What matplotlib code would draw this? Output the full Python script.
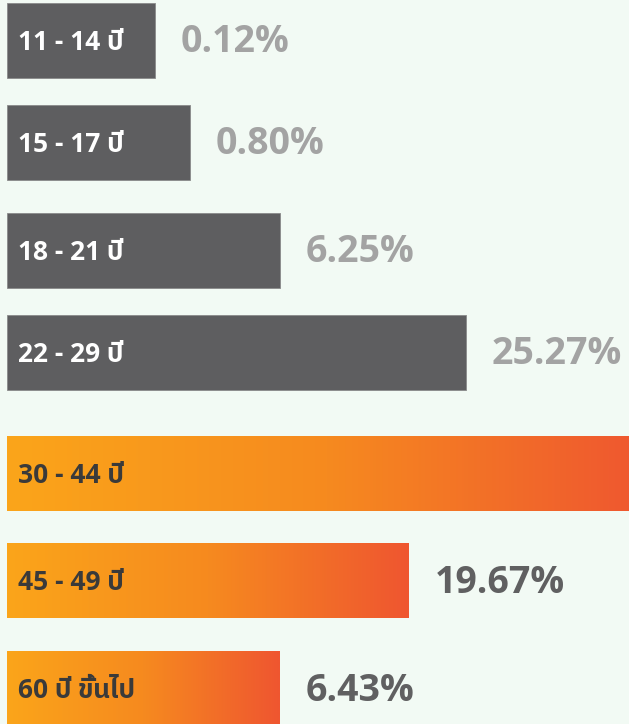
import matplotlib
matplotlib.use("Agg")
import matplotlib.pyplot as plt
import numpy as np
from matplotlib.colors import LinearSegmentedColormap

# ---- data ----
categories = ["11 - 14 ปี", "15 - 17 ปี", "18 - 21 ปี", "22 - 29 ปี",
              "30 - 44 ปี", "45 - 49 ปี", "60 ปี ขึ้นไป"]
value_labels = ["0.12%", "0.80%", "6.25%", "25.27%", "", "19.67%", "6.43%"]
# displayed bar length (chart units)
bar_len = [148, 183, 273, 459, 640, 402, 273]
group = ["gray", "gray", "gray", "gray", "orange", "orange", "orange"]

# ---- layout ----
W, H = 629, 724
centers = [40.5, 142.5, 250, 352.5, 473.5, 581, 689]
bar_h = 75
x0 = 7

bg = "#f2faf4"
gray_bar = "#5e5e60"
grad = LinearSegmentedColormap.from_list("og", ["#fba51a", "#f68a1f", "#ef5630"])

fams = ["Open Sans", "IBM Plex Sans Thai", "Noto Sans Thai", "DejaVu Sans"]
plt.rcParams["font.family"] = fams

fig = plt.figure(figsize=(W / 100, H / 100), dpi=100)
fig.patch.set_facecolor(bg)
ax = fig.add_axes([0, 0, 1, 1])
ax.set_facecolor(bg)
ax.set_xlim(-x0, W - x0)
ax.set_ylim(H, 0)
ax.axis("off")

gradient = np.linspace(0, 1, 256).reshape(1, -1)
for cat, lab, L, g, yc in zip(categories, value_labels, bar_len, group, centers):
    y0, y1 = yc - bar_h / 2, yc + bar_h / 2
    if g == "gray":
        ax.barh(yc, L, height=bar_h, left=0, color=gray_bar,
                edgecolor="#8a8a8a", linewidth=0.6, zorder=2)
        tcol, vcol = "white", "#a3a3a3"
    else:
        ax.imshow(gradient, cmap=grad, aspect="auto",
                  extent=[0, L, y1, y0], zorder=2, interpolation="bilinear")
        tcol, vcol = "#3a3a3a", "#606061"
    ax.text(11, yc + 2, cat, color=tcol, fontsize=19, fontweight="bold",
            va="center", ha="left", zorder=3)
    if lab:
        ax.text(L + 26, yc + 2, lab, color=vcol, fontsize=27, fontweight="bold",
                va="center", ha="left", zorder=3)

ax.set_xlim(-x0, W - x0)
ax.set_ylim(H, 0)
fig.savefig("out.png", dpi=100, facecolor=bg)
